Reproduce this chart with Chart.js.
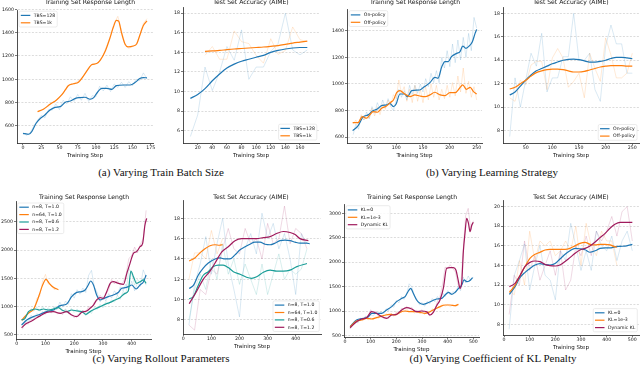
<!DOCTYPE html>
<html>
<head>
<meta charset="utf-8">
<script src="https://cdn.jsdelivr.net/npm/chart.js@4.4.0/dist/chart.umd.min.js"></script>
<style>
  body { margin:0; width:640px; height:389px; background:#fff; position:relative; overflow:hidden; }
  canvas { position:absolute; }
  .cap { position:absolute; font-family:"Liberation Serif"; font-size:11px; line-height:11px; white-space:nowrap; transform:translateX(-50%); color:#111; }
</style>
</head>
<body>
<div class="cap" style="left:161px;top:166.5px">(a) Varying Train Batch Size</div>
<div class="cap" style="left:492px;top:166.5px">(b) Varying Learning Strategy</div>
<div class="cap" style="left:161px;top:353px">(c) Varying Rollout Parameters</div>
<div class="cap" style="left:493px;top:353px">(d) Varying Coefficient of KL Penalty</div>
<script>
// ---------- (a) train batch size ----------
const aXTicks = [0, 25, 50, 75, 100, 125, 150, 175];
const aYTicks = [600, 800, 1000, 1200, 1400, 1600];
const aStep128 = [0, 8, 12, 18, 24, 30, 37, 44, 51, 58, 65, 72, 78, 85, 92, 97, 101, 108, 115, 122, 128, 138, 147, 154, 160, 165, 170];
const aLen128  = [537, 529, 551, 623, 666, 694, 737, 760, 766, 803, 814, 837, 843, 846, 829, 843, 880, 923, 923, 914, 946, 951, 951, 974, 1006, 1015, 1012];
const aStep1k  = [20, 28, 37, 46, 53, 58, 62, 69, 76, 83, 90, 94, 101, 106, 113, 119, 124, 128, 131, 135, 140, 144, 151, 156, 160, 165, 170];
const aLen1k   = [723, 743, 786, 823, 866, 909, 945, 962, 975, 1030, 1094, 1125, 1135, 1165, 1245, 1350, 1450, 1505, 1500, 1400, 1300, 1278, 1285, 1305, 1375, 1462, 1500];
const aRawStep128 = [0, 5, 10, 15, 20, 25, 30, 35, 40, 45, 50, 55, 60, 65, 70, 75, 80, 85, 90, 95, 100, 105, 110, 115, 120, 125, 130, 135, 140, 145, 150, 155, 160, 165, 170];
const aRaw128 = [540, 520, 545, 600, 650, 690, 670, 740, 735, 790, 740, 820, 790, 850, 810, 870, 820, 880, 810, 860, 850, 940, 900, 950, 895, 960, 930, 975, 930, 980, 945, 1000, 990, 1055, 1005];
const aRawStep1k = [20, 25, 30, 35, 40, 45, 50, 55, 60, 65, 70, 75, 80, 85, 90, 95, 100, 105, 110, 115, 120, 125, 130, 135, 140, 145, 150, 155, 160, 165, 170];
const aRaw1k = [725, 735, 755, 770, 800, 815, 850, 880, 935, 955, 960, 985, 1005, 1050, 1100, 1130, 1130, 1160, 1210, 1290, 1370, 1480, 1540, 1420, 1290, 1265, 1280, 1300, 1370, 1480, 1520];

// ---------- (b) test accuracy, batch size ----------
const bXTicks = [20, 40, 60, 80, 100, 120, 140, 160];
const bYTicks = [6, 8, 10, 12, 14, 16, 18];
const bStep128 = [10, 20, 30, 40, 50, 60, 70, 80, 90, 100, 110, 120, 130, 140, 150, 160, 170];
const bAcc128  = [9.3, 9.7, 10.3, 11.1, 11.8, 12.4, 12.8, 13.1, 13.3, 13.5, 13.7, 14.0, 14.2, 14.35, 14.45, 14.5, 14.5];
const bRaw128  = [5.4, 7.6, 12.5, 10.1, 12.0, 14.6, 13.2, 16.3, 11.25, 12.5, 12.5, 14.1, 14.9, 18.0, 14.25, 13.75, 14.25];
const bStep1k  = [30, 40, 50, 60, 70, 80, 90, 100, 110, 120, 130, 140, 150, 160, 170];
const bAcc1k   = [14.1, 14.15, 14.2, 14.28, 14.35, 14.4, 14.45, 14.5, 14.55, 14.62, 14.7, 14.82, 14.95, 15.05, 15.15];
const bRaw1k   = [13.7, 14.6, 13.3, 13.3, 16.2, 15.1, 14.9, 13.7, 12.9, 15.4, 13.8, 14.2, 16.6, 15.3, 15.1];

// ---------- (c) response length, learning strategy ----------
const cXTicks = [50, 100, 150, 200, 250];
const cYTicks = [600, 800, 1000, 1200, 1400];
const cStepOn = [19, 29, 39, 48, 56, 64, 73, 82, 88, 95, 100, 107, 116, 121, 129, 144, 151, 163, 172, 178, 185, 191, 197, 203, 213, 219, 224, 230, 236, 242, 247, 250];
const cLenOn  = [650, 685, 755, 768, 798, 810, 838, 843, 855, 830, 850, 925, 925, 905, 950, 955, 975, 1010, 1050, 1043, 1130, 1168, 1168, 1205, 1230, 1243, 1285, 1268, 1285, 1318, 1380, 1410];
const cStepOff = [19, 29, 37, 45, 51, 57, 65, 73, 82, 90, 95, 101, 107, 116, 126, 135, 144, 154, 163, 172, 182, 191, 200, 210, 218, 224, 231, 238, 244, 250];
const cLenOff  = [710, 710, 755, 743, 768, 793, 788, 818, 835, 863, 880, 935, 950, 925, 905, 918, 910, 905, 918, 938, 918, 913, 935, 935, 968, 993, 960, 975, 943, 925];
const cRawStep = [20, 25, 30, 35, 40, 45, 50, 55, 60, 65, 70, 75, 80, 85, 90, 95, 100, 105, 110, 115, 120, 125, 130, 135, 140, 145, 150, 155, 160, 165, 170, 175, 180, 185, 190, 195, 200, 205, 210, 215, 220, 225, 230, 235, 240, 245, 250];
const cRawOn  = [620, 700, 660, 760, 730, 790, 740, 830, 780, 860, 810, 880, 820, 890, 830, 800, 880, 960, 900, 950, 880, 990, 920, 990, 930, 1000, 940, 1040, 980, 1080, 1010, 1100, 1010, 1200, 1120, 1250, 1130, 1300, 1160, 1330, 1180, 1350, 1200, 1380, 1250, 1500, 1420];
const cRawOff = [700, 730, 690, 770, 730, 760, 740, 820, 760, 830, 770, 850, 810, 880, 840, 920, 890, 1030, 930, 980, 870, 960, 860, 990, 870, 960, 860, 980, 880, 1000, 900, 990, 880, 960, 890, 990, 900, 1010, 910, 1060, 940, 1120, 930, 1020, 900, 980, 880];

// ---------- (d) test accuracy, learning strategy ----------
const dXTicks = [50, 100, 150, 200, 250];
const dYTicks = [8, 10, 12, 14, 16, 18];
const dStep   = [20, 30, 40, 50, 60, 70, 80, 90, 100, 110, 120, 130, 140, 150, 160, 170, 180, 190, 200, 210, 220, 230, 240, 250];
const dAccOn  = [11.04, 11.3, 11.8, 12.3, 12.75, 13.1, 13.3, 13.5, 13.7, 13.85, 14.0, 14.08, 14.1, 14.05, 13.95, 13.85, 13.85, 13.9, 14.0, 14.15, 14.25, 14.25, 14.2, 14.14];
const dAccOff = [11.55, 11.7, 12.0, 12.3, 12.65, 12.95, 13.1, 13.2, 13.25, 13.25, 13.2, 13.1, 13.0, 13.0, 13.05, 13.17, 13.3, 13.43, 13.5, 13.54, 13.54, 13.54, 13.5, 13.5];
const dRawOn  = [7.5, 12.5, 10.0, 12.3, 14.6, 13.5, 16.3, 11.3, 12.5, 12.5, 14.3, 14.3, 18.0, 14.0, 14.0, 14.6, 11.5, 10.5, 15.2, 17.0, 15.4, 15.4, 12.9, 12.9];
const dRawOff = [10.8, 10.5, 12.3, 11.9, 13.6, 13.9, 13.9, 11.5, 14.2, 15.0, 14.2, 11.7, 12.2, 12.9, 10.8, 14.6, 13.3, 12.2, 15.9, 14.45, 12.5, 12.5, 12.9, 14.6];

// ---------- (e) response length, rollout parameters ----------
const eXTicks = [0, 100, 200, 300, 400];
const eYTicks = [500, 1000, 1500, 2000, 2500];
const eStepB = [17, 35, 58, 81, 104, 128, 151, 174, 191, 209, 226, 238, 249, 257, 267, 278, 290, 304, 319, 336, 354, 365, 377, 388, 400, 415, 429, 441, 450];
const eLenB  = [676, 765, 824, 865, 912, 941, 1018, 1047, 1176, 1253, 1265, 1294, 1382, 1453, 1382, 1206, 1118, 1147, 1176, 1206, 1253, 1324, 1335, 1353, 1382, 1312, 1382, 1441, 1559];
const eStepO = [17, 30, 45, 58, 68, 78, 90, 102, 112, 125, 135, 145];
const eLenO  = [760, 830, 900, 950, 1060, 1200, 1380, 1480, 1420, 1350, 1320, 1300];
const eStepT = [17, 29, 41, 52, 64, 79, 93, 110, 128, 145, 157, 174, 191, 209, 226, 241, 255, 272, 290, 307, 325, 342, 359, 377, 388, 397, 406, 417, 429, 441, 450];
const eLenT  = [765, 794, 912, 941, 959, 941, 959, 941, 959, 982, 941, 912, 941, 924, 912, 865, 912, 959, 1000, 1041, 1076, 1118, 1159, 1235, 1276, 1629, 1529, 1412, 1441, 1471, 1412];
const eStepP = [17, 35, 52, 70, 87, 104, 128, 151, 174, 191, 209, 226, 243, 255, 267, 278, 290, 301, 313, 325, 336, 354, 371, 383, 394, 406, 417, 429, 438, 446, 452];
const eLenP  = [629, 706, 747, 806, 853, 900, 912, 882, 912, 853, 824, 900, 924, 971, 1029, 1118, 1159, 1147, 1265, 1412, 1441, 1412, 1394, 1588, 1765, 1941, 1971, 2059, 2118, 2441, 2559];
const eRawStep = [20, 30, 40, 50, 60, 70, 80, 90, 100, 110, 120, 130, 140, 150, 160, 170, 180, 190, 200, 210, 220, 230, 240, 250, 260, 270, 280, 290, 300, 310, 320, 330, 340, 350, 360, 370, 380, 390, 400, 410, 420, 430, 440, 450];
const eRawB = [640, 760, 720, 850, 790, 880, 830, 920, 870, 960, 900, 990, 950, 1080, 990, 1100, 1040, 1230, 1150, 1300, 1220, 1330, 1250, 1550, 1640, 1350, 1250, 1080, 1180, 1100, 1230, 1150, 1280, 1200, 1350, 1280, 1400, 1300, 1450, 1280, 1420, 1360, 1650, 1520];
const eRawOStep = [20, 30, 40, 50, 60, 70, 80, 90, 100, 110, 120, 130, 140];
const eRawO = [740, 850, 880, 960, 930, 1150, 1180, 1450, 1570, 1400, 1380, 1300, 1320];
const eRawT = [750, 820, 900, 960, 920, 990, 920, 1000, 930, 980, 920, 1000, 950, 1020, 920, 960, 880, 970, 900, 960, 880, 940, 840, 930, 880, 990, 950, 1040, 980, 1090, 1040, 1120, 1080, 1200, 1130, 1270, 1220, 1680, 1580, 1380, 1480, 1420, 1500, 1380];
const eRawP = [600, 720, 690, 780, 760, 840, 820, 880, 870, 930, 890, 940, 870, 900, 860, 950, 880, 870, 800, 850, 880, 930, 900, 1000, 990, 1080, 1100, 1200, 1130, 1220, 1300, 1480, 1400, 1460, 1380, 1430, 1560, 1850, 1900, 2050, 1950, 2100, 2200, 2700];

// ---------- (f) test accuracy, rollout parameters ----------
const fXTicks = [0, 100, 200, 300, 400];
const fYTicks = [8, 10, 12, 14, 16, 18];
const fStepB = [21, 36, 53, 71, 89, 113, 131, 148, 166, 184, 202, 220, 237, 255, 273, 291, 309, 326, 344, 362, 380, 398, 415, 439, 450];
const fAccB  = [11.1, 11.4, 12.4, 13.1, 13.6, 14.0, 14.1, 14.0, 14.0, 14.4, 14.9, 15.2, 15.45, 15.65, 15.65, 15.45, 15.4, 15.55, 15.8, 15.85, 15.8, 15.65, 15.55, 15.55, 15.5];
const fStepO = [21, 41, 59, 77, 95, 113, 128, 140];
const fAccO  = [13.8, 14.1, 14.6, 15.0, 15.3, 15.4, 15.35, 15.4];
const fStepT = [21, 36, 53, 71, 89, 107, 125, 142, 160, 178, 202, 225, 243, 261, 285, 309, 332, 356, 380, 404, 440];
const fAccT  = [10.1, 10.3, 11.4, 12.4, 12.75, 13.25, 13.4, 13.4, 13.15, 12.75, 12.5, 12.2, 12.1, 12.25, 12.7, 12.9, 12.8, 12.8, 12.9, 13.25, 13.55];
const fStepP = [21, 47, 71, 95, 113, 137, 160, 184, 208, 231, 261, 285, 309, 332, 356, 380, 398, 415, 445];
const fAccP  = [9.6, 10.8, 12.0, 12.8, 13.6, 14.7, 15.2, 15.8, 16.0, 16.0, 16.0, 16.1, 16.2, 16.5, 16.7, 16.6, 16.4, 16.0, 15.8];
const fRawStep = [20, 40, 60, 80, 100, 120, 140, 160, 180, 200, 220, 240, 260, 280, 300, 320, 340, 360, 380, 400, 420, 440];
const fRawB = [7.5, 11.5, 13.5, 16.2, 12.5, 15.5, 18.0, 13.5, 11.0, 8.3, 15.0, 16.5, 14.5, 18.5, 16.0, 17.5, 15.0, 16.5, 14.0, 10.5, 16.5, 15.5];
const fRawOStep = [20, 40, 60, 80, 100, 120, 140];
const fRawO = [12.0, 14.6, 14.6, 14.0, 16.8, 14.5, 16.0];
const fRawT = [8.0, 11.0, 12.5, 11.0, 14.0, 12.0, 15.5, 12.5, 14.0, 11.5, 13.5, 12.0, 10.5, 13.5, 10.5, 12.5, 14.5, 12.0, 13.0, 12.5, 13.0, 15.0];
const fRawP = [7.5, 7.0, 11.0, 10.5, 13.0, 12.5, 15.0, 17.0, 15.0, 14.5, 17.0, 15.5, 16.0, 14.0, 17.5, 15.5, 16.0, 19.2, 15.5, 17.0, 16.5, 15.0];

// ---------- (g) response length, KL penalty ----------
const gXTicks = [0, 100, 200, 300, 400, 500];
const gYTicks = [500, 1000, 1500, 2000, 2500, 3000];
const gStepB = [20, 45, 71, 91, 104, 123, 143, 162, 182, 201, 221, 234, 247, 256, 266, 279, 292, 305, 318, 338, 357, 377, 390, 403, 416, 429, 442, 455, 464, 474, 484, 497];
const gLenB  = [684, 820, 854, 888, 956, 956, 956, 1025, 1093, 1195, 1263, 1297, 1413, 1467, 1365, 1229, 1161, 1140, 1161, 1208, 1249, 1263, 1331, 1386, 1345, 1386, 1467, 1535, 1638, 1604, 1617, 1685];
const gStepO = [20, 45, 65, 84, 104, 123, 149, 175, 195, 214, 234, 253, 273, 292, 312, 331, 351, 370, 390, 409, 429, 442];
const gLenO  = [684, 800, 820, 854, 841, 868, 909, 936, 922, 977, 1004, 990, 990, 977, 956, 990, 1045, 1093, 1127, 1127, 1113, 1140];
const gStepP = [20, 45, 65, 84, 104, 123, 143, 162, 182, 201, 221, 240, 260, 279, 299, 318, 331, 344, 357, 370, 383, 396, 409, 422, 432, 442, 448, 455, 461, 468, 474, 481, 487, 494, 500];
const gLenP  = [663, 786, 841, 868, 990, 956, 888, 854, 922, 936, 1025, 1072, 1045, 990, 1004, 990, 922, 977, 1113, 1229, 1467, 1876, 1890, 1890, 1842, 1604, 1467, 1604, 2217, 2625, 2898, 2796, 2625, 2761, 2816];
const gRawStep = [20, 30, 40, 50, 60, 70, 80, 90, 100, 110, 120, 130, 140, 150, 160, 170, 180, 190, 200, 210, 220, 230, 240, 250, 260, 270, 280, 290, 300, 310, 320, 330, 340, 350, 360, 370, 380, 390, 400, 410, 420, 430, 440, 450, 460, 470, 480, 490, 500];
const gRawB = [650, 730, 790, 760, 860, 820, 900, 860, 930, 900, 980, 920, 990, 940, 1050, 1010, 1130, 1080, 1220, 1170, 1300, 1240, 1350, 1560, 1500, 1320, 1250, 1130, 1180, 1100, 1200, 1150, 1260, 1190, 1300, 1230, 1380, 1300, 1420, 1330, 1400, 1370, 1500, 1420, 1700, 1580, 1720, 1620, 1700];
const gRawOStep = [20, 30, 40, 50, 60, 70, 80, 90, 100, 110, 120, 130, 140, 150, 160, 170, 180, 190, 200, 210, 220, 230, 240, 250, 260, 270, 280, 290, 300, 310, 320, 330, 340, 350, 360, 370, 380, 390, 400, 410, 420, 430, 440];
const gRawO = [660, 740, 790, 770, 840, 800, 870, 820, 870, 830, 890, 850, 920, 880, 950, 900, 960, 900, 990, 950, 1020, 980, 1050, 990, 1020, 960, 1010, 950, 990, 930, 1000, 960, 1050, 1020, 1120, 1060, 1150, 1100, 1140, 1090, 1130, 1100, 1150];
const gRawP = [640, 720, 780, 800, 850, 830, 890, 880, 1030, 960, 1000, 900, 910, 860, 880, 850, 950, 900, 970, 940, 1060, 1040, 1100, 1050, 1080, 990, 1020, 980, 1030, 960, 1000, 900, 960, 1050, 1200, 1300, 1550, 1900, 1870, 1950, 1870, 1800, 1550, 1450, 2200, 2950, 3100, 2650, 2850];

// ---------- (h) test accuracy, KL penalty ----------
const hXTicks = [0, 100, 200, 300, 400, 500];
const hYTicks = [8, 10, 12, 14, 16, 18, 20];
const hStep  = [21, 43, 62, 82, 101, 121, 140, 160, 179, 199, 218, 238, 257, 277, 296, 316, 335, 355, 374, 394, 413, 432, 452, 478, 500];
const hAccB  = [11.06, 11.84, 12.76, 13.3, 13.7, 14.05, 14.2, 14.1, 14.05, 14.2, 14.66, 15.14, 15.5, 15.75, 15.7, 15.6, 15.35, 15.5, 15.75, 15.8, 15.8, 15.9, 15.95, 16.0, 16.15];
const hStepO = [21, 43, 62, 82, 101, 121, 140, 160, 179, 199, 218, 238, 257, 277, 296, 316, 335, 355, 374, 394, 413, 432, 440];
const hAccO  = [11.26, 12.0, 12.96, 13.9, 14.73, 15.14, 15.34, 15.58, 15.65, 15.65, 15.65, 15.65, 15.75, 16.0, 16.26, 16.36, 16.16, 16.1, 16.16, 16.16, 16.1, 15.9, 15.88];
const hAccP  = [11.84, 12.18, 12.96, 13.9, 14.32, 14.46, 14.4, 14.1, 13.98, 13.95, 14.05, 14.4, 14.8, 15.24, 15.58, 15.75, 16.0, 16.4, 16.84, 17.28, 17.8, 18.2, 18.4, 18.4, 18.4];
const hRawStep = [20, 40, 60, 80, 100, 120, 140, 160, 180, 200, 220, 240, 260, 280, 300, 320, 340, 360, 380, 400, 420, 440, 460, 480, 500];
const hRawB = [7.5, 13.0, 14.5, 16.2, 11.5, 14.0, 16.0, 13.0, 12.5, 10.5, 15.5, 14.5, 18.3, 16.0, 13.5, 15.5, 13.5, 17.5, 16.0, 15.5, 17.0, 14.5, 16.5, 17.5, 15.5];
const hRawOStep = [20, 40, 60, 80, 100, 120, 140, 160, 180, 200, 220, 240, 260, 280, 300, 320, 340, 360, 380, 400, 420, 440];
const hRawO = [11.5, 11.0, 14.5, 12.0, 17.5, 14.5, 16.5, 16.0, 16.5, 15.0, 15.5, 16.5, 15.5, 18.0, 14.0, 18.3, 16.0, 15.0, 17.5, 16.5, 16.5, 14.0];
const hRawP = [9.0, 13.0, 12.0, 16.5, 13.5, 15.0, 12.5, 14.0, 15.5, 13.0, 15.5, 11.5, 12.5, 16.0, 15.0, 17.0, 15.0, 17.5, 16.5, 17.5, 19.0, 17.0, 19.5, 20.0, 16.5];

const LEN_TITLE = 'Training Set Response Length';
const ACC_TITLE = 'Test Set Accuracy (AIME)';

// ---------- drawing ----------
const FONT = '"DejaVu Sans", sans-serif';
const BLUE = '#1f77b4', ORANGE = '#ff7f0e', TEAL = '#1b9e98', PLUM = '#a01a5c';

function fade(hex, a) {
  const n = parseInt(hex.slice(1), 16);
  return 'rgba(' + (n >> 16) + ',' + ((n >> 8) & 255) + ',' + (n & 255) + ',' + a + ')';
}
function pts(xs, ys) { return xs.map((x, i) => ({x: x, y: ys[i]})); }
function mainLine(label, xs, ys, color, i) {
  return {label: label, data: pts(xs, ys), borderColor: color, borderWidth: 1.2,
          cubicInterpolationMode: 'monotone', order: -i, main: true};
}
function rawLine(xs, ys, color) {
  return {data: pts(xs, ys), borderColor: fade(color, 0.28), borderWidth: 0.6, tension: 0, order: 5};
}

// legend inside the axes plus the small panel title, like matplotlib
const boxLegend = {
  id: 'boxLegend',
  afterDatasetsDraw(chart, args, opts) {
    const ctx = chart.ctx, a = chart.chartArea;
    ctx.save();
    if (opts.title) {
      ctx.font = '6.1px ' + FONT;
      ctx.fillStyle = '#111';
      ctx.textAlign = 'center';
      ctx.textBaseline = 'alphabetic';
      ctx.fillText(opts.title, opts.tx, opts.ty);
      ctx.textAlign = 'left';
    }
    const items = chart.data.datasets.filter(d => d.main);
    ctx.font = opts.size + 'px ' + FONT;
    const tw = Math.max(...items.map(d => ctx.measureText(d.label).width));
    const w = 1.8 + 9.5 + 3.5 + tw + 2, h = 7.4 * items.length + 1;
    const x = opts.corner === 'tl' ? a.left + opts.dx : a.right - opts.dx - w;
    const y = opts.corner === 'tl' ? a.top + opts.dy : a.bottom - opts.dy - h;
    ctx.beginPath();
    ctx.roundRect(x, y, w, h, 1.5);
    ctx.fillStyle = 'rgba(255,255,255,0.85)';
    ctx.fill();
    ctx.strokeStyle = '#d8d8d8';
    ctx.lineWidth = 0.5;
    ctx.stroke();
    items.forEach((d, i) => {
      const cy = y + 4.2 + i * 7.4;
      ctx.strokeStyle = d.borderColor;
      ctx.lineWidth = 1.2;
      ctx.beginPath();
      ctx.moveTo(x + 1.8, cy);
      ctx.lineTo(x + 11.3, cy);
      ctx.stroke();
      ctx.fillStyle = '#111';
      ctx.textBaseline = 'middle';
      ctx.fillText(d.label, x + 14.8, cy);
    });
    ctx.restore();
  }
};
Chart.register(boxLegend);

const YW = 22, PT = 14, PR = 4, XH = 16;

function panel(p, datasets) {
  const cv = document.createElement('canvas');
  const w = p.R - p.L + YW + PR, h = p.B - p.T + PT + XH;
  const ox = p.L - YW, oy = p.T - PT;
  cv.width = w; cv.height = h;
  cv.style.left = ox + 'px';
  cv.style.top = oy + 'px';
  cv.style.width = w + 'px';
  cv.style.height = h + 'px';
  document.body.appendChild(cv);
  new Chart(cv, {
    type: 'line',
    data: {datasets: datasets},
    options: {
      responsive: false, animation: false, events: [],
      layout: {padding: {left: 0, top: PT, right: PR, bottom: 0}},
      elements: {point: {radius: 0}},
      plugins: {legend: {display: false}, tooltip: {enabled: false},
                boxLegend: {corner: p.leg, dx: p.ldx, dy: p.ldy, size: 4.6,
                            title: p.title, tx: p.tcx - ox, ty: p.tby - oy}},
      scales: {
        x: {
          type: 'linear', min: p.xmin, max: p.xmax,
          afterBuildTicks: s => { s.ticks = p.xt.map(v => ({value: v})); },
          afterFit: s => { s.height = XH; s.paddingLeft = 0; s.paddingRight = 0; },
          grid: {drawOnChartArea: false, drawTicks: true, tickLength: 2, tickColor: '#222', tickWidth: 0.6},
          border: {display: true, color: '#222', width: 0.8},
          ticks: {font: {family: FONT, size: 4.7}, color: '#222', padding: 0, maxRotation: 0, autoSkip: false,
                  callback: v => String(v)},
          title: {display: true, text: 'Training Step', font: {family: FONT, size: 5.5}, color: '#111', padding: 0}
        },
        y: {
          type: 'linear', min: p.ymin, max: p.ymax,
          afterBuildTicks: s => { s.ticks = p.yt.map(v => ({value: v})); },
          afterFit: s => { s.width = YW; s.paddingTop = 0; s.paddingBottom = 0; },
          grid: {color: '#c4c4c4', lineWidth: 0.6, tickLength: 2, tickColor: '#222', tickWidth: 0.6},
          border: {display: true, color: '#222', width: 0.8, dash: [2, 1.5]},
          ticks: {font: {family: FONT, size: 4.7}, color: '#222', padding: 1, autoSkip: false,
                  callback: v => String(v)}
        }
      }
    }
  });
}

panel({L: 17, R: 153, T: 10, B: 143, xmin: -8.2, xmax: 178.2, ymin: 454, ymax: 1594, xt: aXTicks, yt: aYTicks,
       leg: 'tl', ldx: 2, ldy: 1.2, title: LEN_TITLE, tcx: 90, tby: 3.8}, [
  mainLine('TBS=128', aStep128, aLen128, BLUE, 0),
  mainLine('TBS=1k', aStep1k, aLen1k, ORANGE, 1),
  rawLine(aRawStep128, aRaw128, BLUE),
  rawLine(aRawStep1k, aRaw1k, ORANGE)
]);
panel({L: 183, R: 319, T: 7, B: 143, xmin: -0.1, xmax: 186, ymin: 4.74, ymax: 18.64, xt: bXTicks, yt: bYTicks,
       leg: 'br', ldx: 2.2, ldy: 3, title: ACC_TITLE, tcx: 251, tby: 3.8}, [
  mainLine('TBS=128', bStep128, bAcc128, BLUE, 0),
  mainLine('TBS=1k', bStep1k, bAcc1k, ORANGE, 1),
  rawLine(bStep128, bRaw128, BLUE),
  rawLine(bStep1k, bRaw1k, ORANGE)
]);
panel({L: 347, R: 482, T: 9, B: 143, xmin: 8.5, xmax: 259.9, ymin: 557, ymax: 1563, xt: cXTicks, yt: cYTicks,
       leg: 'tl', ldx: 2, ldy: 1.7, title: LEN_TITLE, tcx: 415, tby: 3.8}, [
  mainLine('On-policy', cStepOn, cLenOn, BLUE, 0),
  mainLine('Off-policy', cStepOff, cLenOff, ORANGE, 1),
  rawLine(cRawStep, cRawOn, BLUE),
  rawLine(cRawStep, cRawOff, ORANGE)
]);
panel({L: 503, R: 639, T: 7, B: 143, xmin: 7.4, xmax: 262.6, ymin: 6.95, ymax: 18.54, xt: dXTicks, yt: dYTicks,
       leg: 'br', ldx: 2, ldy: 2.7, title: ACC_TITLE, tcx: 571, tby: 3.8}, [
  mainLine('On-policy', dStep, dAccOn, BLUE, 0),
  mainLine('Off-policy', dStep, dAccOff, ORANGE, 1),
  rawLine(dStep, dRawOn, BLUE),
  rawLine(dStep, dRawOff, ORANGE)
]);
panel({L: 16, R: 151, T: 201, B: 339, xmin: -2.4, xmax: 467, ymin: 429, ymax: 2865, xt: eXTicks, yt: eYTicks,
       leg: 'tl', ldx: 1.5, ldy: 2, title: LEN_TITLE, tcx: 84, tby: 199}, [
  mainLine('n=8, T=1.0', eStepB, eLenB, BLUE, 0),
  mainLine('n=64, T=1.0', eStepO, eLenO, ORANGE, 1),
  mainLine('n=8, T=0.6', eStepT, eLenT, TEAL, 2),
  mainLine('n=8, T=1.2', eStepP, eLenP, PLUM, 3),
  rawLine(eRawStep, eRawB, BLUE),
  rawLine(eRawOStep, eRawO, ORANGE),
  rawLine(eRawStep, eRawT, TEAL),
  rawLine(eRawStep, eRawP, PLUM)
]);
panel({L: 183, R: 321, T: 200, B: 334, xmin: -1.1, xmax: 490, ymin: 6.62, ymax: 19.8, xt: fXTicks, yt: fYTicks,
       leg: 'br', ldx: 1.7, ldy: 2.5, title: ACC_TITLE, tcx: 251, tby: 199}, [
  mainLine('n=8, T=1.0', fStepB, fAccB, BLUE, 0),
  mainLine('n=64, T=1.0', fStepO, fAccO, ORANGE, 1),
  mainLine('n=8, T=0.6', fStepT, fAccT, TEAL, 2),
  mainLine('n=8, T=1.2', fStepP, fAccP, PLUM, 3),
  rawLine(fRawStep, fRawB, BLUE),
  rawLine(fRawOStep, fRawO, ORANGE),
  rawLine(fRawStep, fRawT, TEAL),
  rawLine(fRawStep, fRawP, PLUM)
]);
panel({L: 344, R: 479, T: 204, B: 337, xmin: -3.9, xmax: 522, ymin: 473, ymax: 3190, xt: gXTicks, yt: gYTicks,
       leg: 'tl', ldx: 2, ldy: 1.7, title: LEN_TITLE, tcx: 412, tby: 199}, [
  mainLine('KL=0', gStepB, gLenB, BLUE, 0),
  mainLine('KL=1e-3', gStepO, gLenO, ORANGE, 1),
  mainLine('Dynamic KL', gStepP, gLenP, PLUM, 2),
  rawLine(gRawStep, gRawB, BLUE),
  rawLine(gRawOStep, gRawO, ORANGE),
  rawLine(gRawStep, gRawP, PLUM)
]);
panel({L: 503, R: 639, T: 200, B: 335, xmin: -3.9, xmax: 526, ymin: 6.91, ymax: 20.68, xt: hXTicks, yt: hYTicks,
       leg: 'br', ldx: 1.7, ldy: 3.2, title: ACC_TITLE, tcx: 571, tby: 199}, [
  mainLine('KL=0', hStep, hAccB, BLUE, 0),
  mainLine('KL=1e-3', hStepO, hAccO, ORANGE, 1),
  mainLine('Dynamic KL', hStep, hAccP, PLUM, 2),
  rawLine(hRawStep, hRawB, BLUE),
  rawLine(hRawOStep, hRawO, ORANGE),
  rawLine(hRawStep, hRawP, PLUM)
]);
</script>
</body>
</html>
